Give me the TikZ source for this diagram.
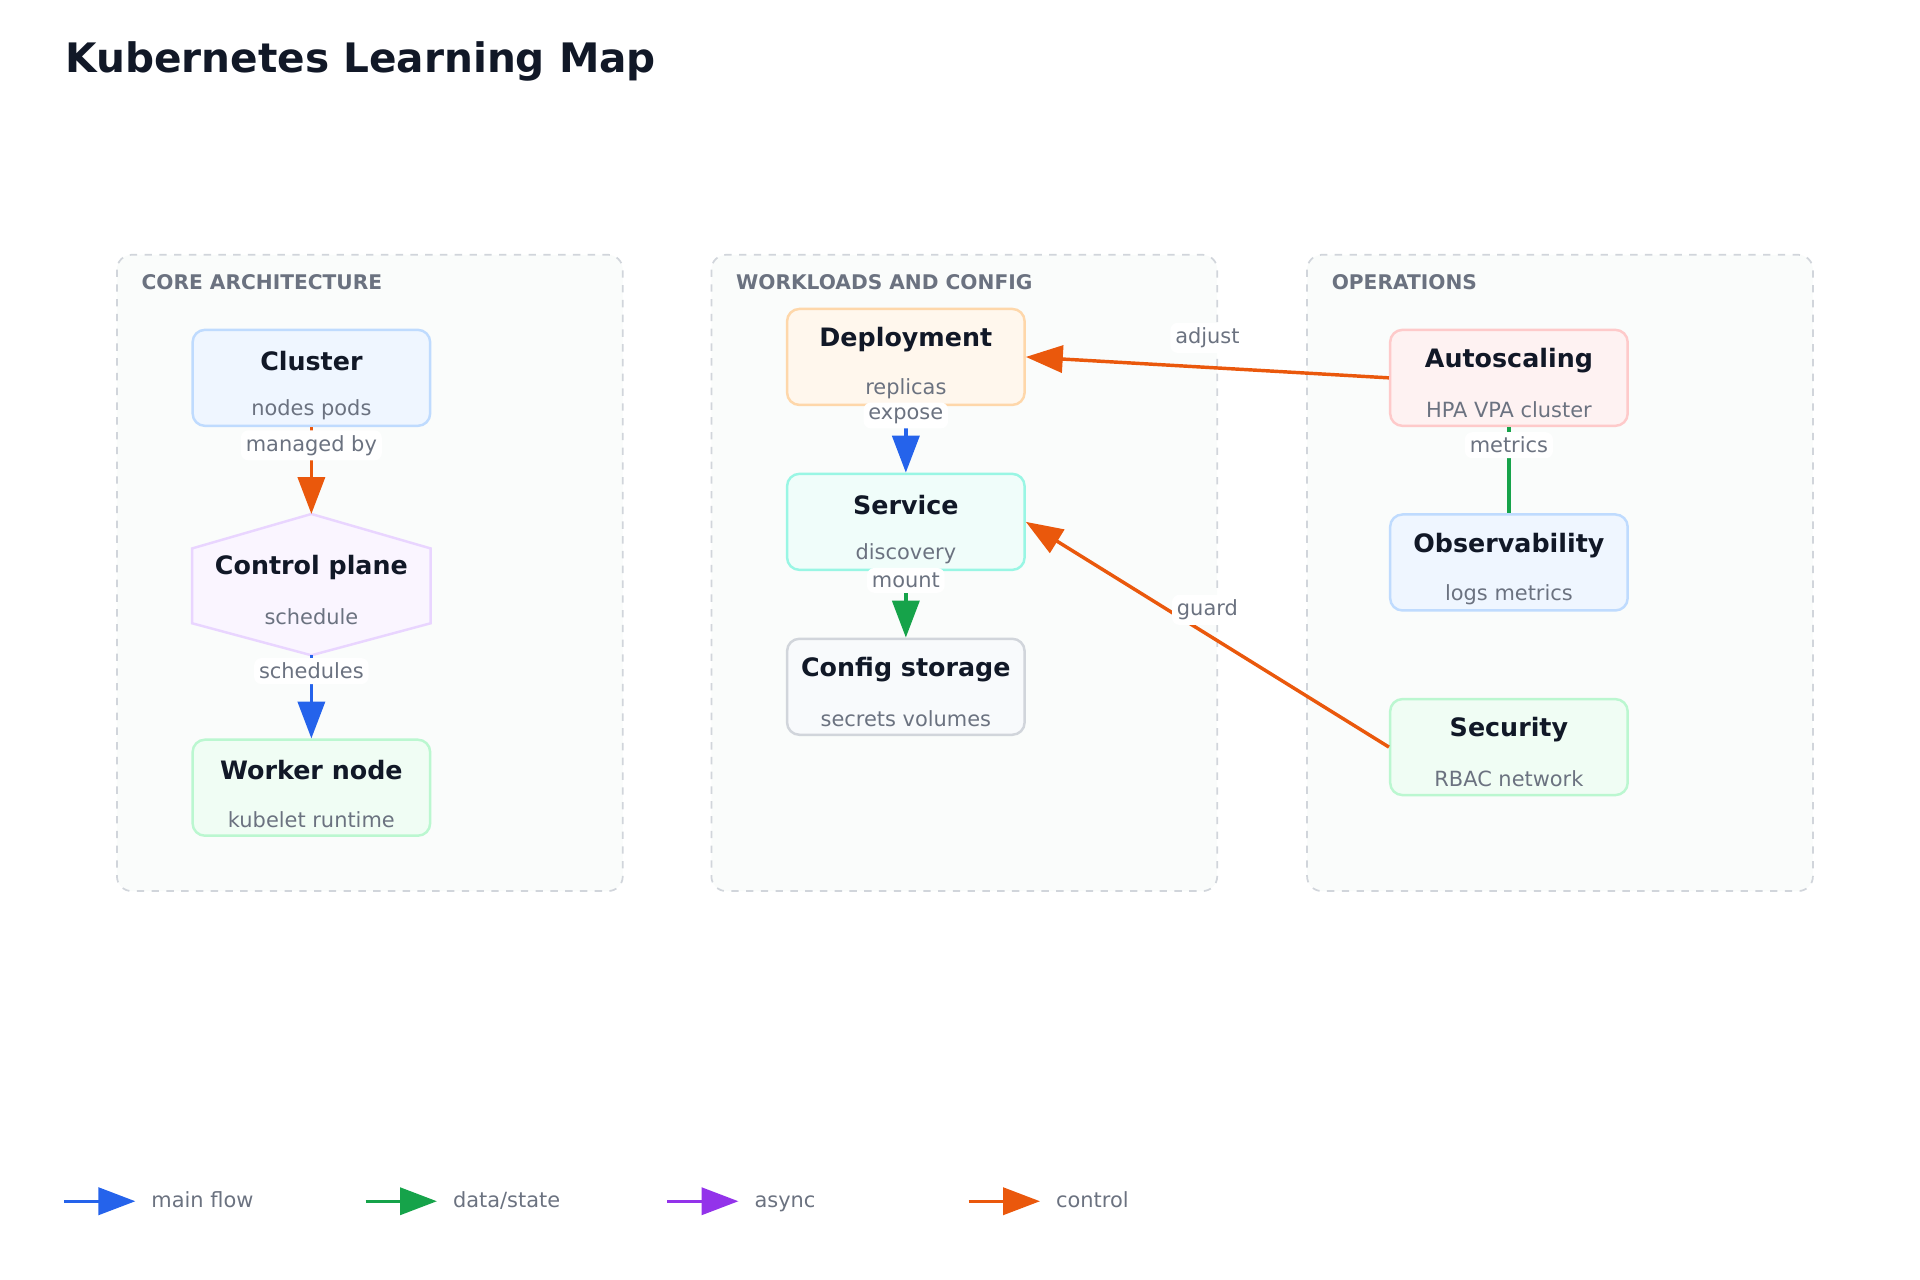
\documentclass[tikz,border=0pt]{standalone}
\usepackage{fontspec}
\setmainfont{DejaVu Sans}
\usetikzlibrary{arrows.meta,calc}
\definecolor{kblue}{HTML}{2563EB}
\definecolor{kgreen}{HTML}{16A34A}
\definecolor{kpurple}{HTML}{9333EA}
\definecolor{korange}{HTML}{EA580C}
\definecolor{ktext}{HTML}{111827}
\definecolor{ksub}{HTML}{6B7280}
\definecolor{kgrp}{HTML}{D1D5DB}
\definecolor{kgrpfill}{HTML}{FAFCFB}
\definecolor{bluefill}{HTML}{EFF6FF}\definecolor{blueline}{HTML}{BFDBFE}
\definecolor{purplefill}{HTML}{FAF5FF}\definecolor{purpleline}{HTML}{E9D5FF}
\definecolor{greenfill}{HTML}{F0FDF4}\definecolor{greenline}{HTML}{BBF7D0}
\definecolor{orangefill}{HTML}{FFF7ED}\definecolor{orangeline}{HTML}{FED7AA}
\definecolor{tealfill}{HTML}{F0FDFA}\definecolor{tealline}{HTML}{99F6E4}
\definecolor{grayfill}{HTML}{F8FAFC}\definecolor{grayline}{HTML}{D1D5DB}
\definecolor{redfill}{HTML}{FEF2F2}\definecolor{redline}{HTML}{FECACA}
\tikzset{
  group/.style={draw=kgrp, dashed, line width=0.7pt, rounded corners=6pt, fill=kgrpfill},
  grouplabel/.style={anchor=west, text=ksub, font=\fontsize{8.2}{10}\selectfont\bfseries},
  box/.style={rounded corners=5pt, line width=1pt, minimum width=96.5pt, minimum height=39pt, inner sep=0pt},
  ttl/.style={text=ktext, font=\fontsize{10.3}{12}\selectfont\bfseries},
  sub/.style={text=ksub, font=\fontsize{8.5}{10}\selectfont},
  elabel/.style={fill=white, rounded corners=3pt, text=ksub, font=\fontsize{8.5}{10}\selectfont, inner sep=2pt},
  flow/.style={line width=1.4pt, -{Triangle[length=15pt,width=11pt]}},
}
\newcommand{\kbox}[7]{%
  \node[box, fill=#4, draw=#5] (#1) at (#2,#3) {};
  \node[ttl] at ($(#1.center)+(0,-14)$) {#6};
  \node[sub] at ($(#1.center)+(0,26)$) {#7};
}
\begin{document}
\begin{tikzpicture}[x=0.5pt, y=-0.5pt]
\useasboundingbox (0,0) rectangle (1560,1040);
\node[anchor=west, text=ktext, font=\fontsize{16.5}{20}\selectfont\bfseries] (title) at (46,50) {Kubernetes Learning Map};

% groups
\draw[group] (95,207) rectangle (506,724);
\draw[group] (578,207) rectangle (989,724);
\draw[group] (1062,207) rectangle (1473,724);
\node[grouplabel] at (108,229) {CORE ARCHITECTURE};
\node[grouplabel] at (591,229) {WORKLOADS AND CONFIG};
\node[grouplabel] at (1075,229) {OPERATIONS};

% core
\kbox{cluster}{253}{307}{bluefill}{blueline}{Cluster}{nodes pods}
\node[minimum width=96.5pt, minimum height=57pt, inner sep=0pt] (cp) at (253,475) {};
\draw[fill=purplefill, draw=purpleline, line width=1pt]
  (cp.north) -- ($(cp.north east)+(0,28)$) -- ($(cp.south east)+(0,-26)$)
  -- (cp.south) -- ($(cp.south west)+(0,-26)$) -- ($(cp.north west)+(0,28)$) -- cycle;
\node[ttl] at ($(cp.center)+(0,-14)$) {Control plane};
\node[sub] at ($(cp.center)+(0,26)$) {schedule};
\kbox{worker}{253}{640}{greenfill}{greenline}{Worker node}{kubelet runtime}

% workloads
\kbox{deploy}{736}{290}{orangefill}{orangeline}{Deployment}{replicas}
\kbox{service}{736}{424}{tealfill}{tealline}{Service}{discovery}
\kbox{config}{736}{558}{grayfill}{grayline}{Config storage}{secrets volumes}

% operations
\kbox{autoscale}{1226}{307}{redfill}{redline}{Autoscaling}{HPA VPA cluster}
\kbox{observe}{1226}{457}{bluefill}{blueline}{Observability}{logs metrics}
\kbox{security}{1226}{607}{greenfill}{greenline}{Security}{RBAC network}

% connectors
\draw[flow, korange] (cluster) -- (cp.north) node[elabel, pos=0.21] {managed by};
\draw[flow, kblue] (cp.south) -- (worker) node[elabel, pos=0.19] {schedules};
\draw[flow, kblue] (deploy) -- (service) node[elabel, pos=0.14] {expose};
\draw[flow, kgreen] (service) -- (config) node[elabel, pos=0.14] {mount};
\draw[flow, korange] (autoscale.west) -- (deploy.east) node[elabel, pos=0.5, yshift=12pt] {adjust};
\draw[line width=1.4pt, kgreen] (autoscale) -- (observe) node[elabel, pos=0.21] {metrics};
\draw[flow, korange] (security.west) -- (service.east) node[elabel, pos=0.5, yshift=10pt] {guard};

% legend
\foreach \x/\c/\t in {52/kblue/main flow, 297/kgreen/data\slash state, 542/kpurple/async, 787/korange/control}{
  \coordinate (l\x) at (\x,976);
  \coordinate (r\x) at (\x+58,976);
  \draw[flow, \c] (l\x) -- (r\x);
  \node[anchor=west, text=ksub, font=\fontsize{8.5}{10}\selectfont, text height=6.5pt, text depth=1.8pt] at (\x+64,976) {\t};
}
\end{tikzpicture}
\end{document}
